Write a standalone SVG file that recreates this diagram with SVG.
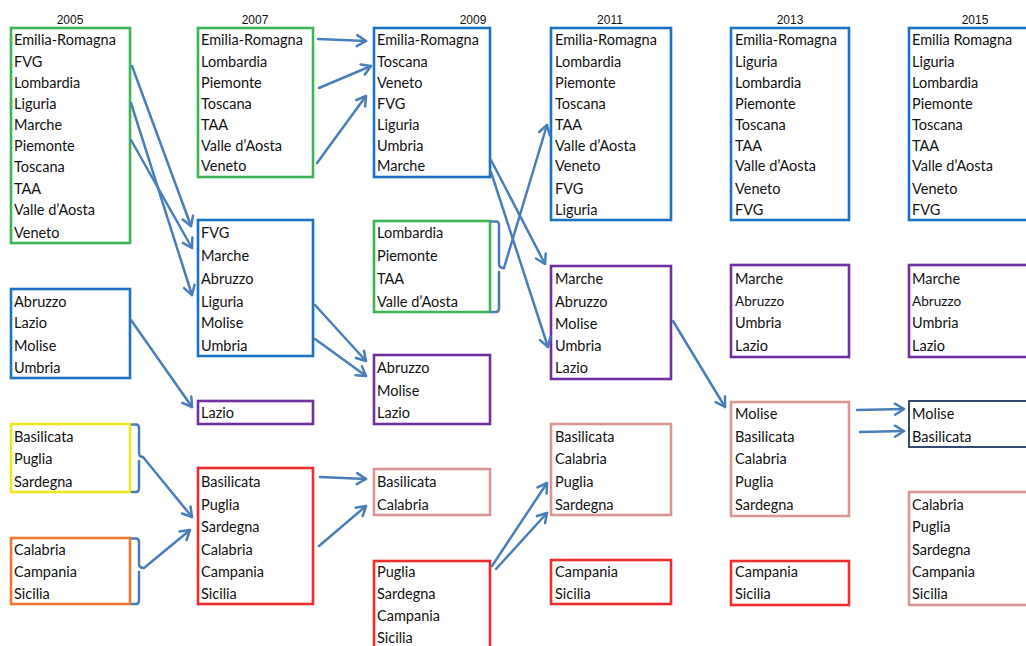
<svg xmlns="http://www.w3.org/2000/svg" width="1026" height="646" viewBox="0 0 1026 646">
<style>
.bg{fill:#ffffff}
.box{fill:none;stroke-width:2.6}
.g{stroke:#3DB556}.b{stroke:#1C72C2}.p{stroke:#7030A0}.y{stroke:#EFE81C}.o{stroke:#EC7A2E}.r{stroke:#EE2E2E}.k{stroke:#D99694}.n{stroke:#1F3864;stroke-width:1.8}
.t{font-family:Lato,"Open Sans","Liberation Sans",sans-serif;font-size:14.5px;fill:#111}
.s{font-size:13.6px}
.h{font-family:"Liberation Sans",Arial,sans-serif;font-size:12px;fill:#111;text-anchor:middle}
.c{fill:none;stroke:#4A7EBB;stroke-width:2.5;stroke-linecap:round;stroke-linejoin:round}
</style>
<defs>
<marker id="ar" markerUnits="userSpaceOnUse" markerWidth="14" markerHeight="14" viewBox="0 0 14 14" refX="11" refY="7" orient="auto">
<path d="M2,1.5 L11,7 L2,12.5" fill="none" stroke="#4A7EBB" stroke-width="2.5" stroke-linecap="round" stroke-linejoin="round"/>
</marker>
</defs>
<rect class="bg" x="0" y="0" width="1026" height="646"/>
<g id="titles">
<text class="h" x="70" y="24">2005</text>
<text class="h" x="255" y="24">2007</text>
<text class="h" x="473" y="24">2009</text>
<text class="h" x="610" y="24">2011</text>
<text class="h" x="790" y="24">2013</text>
<text class="h" x="975" y="24">2015</text>
</g>
<g id="n05a"><rect class="box g" x="11" y="28" width="119" height="215"/>
<text class="t" x="14" y="45">Emilia-Romagna</text><text class="t" x="14" y="67">FVG</text><text class="t" x="14" y="88">Lombardia</text><text class="t" x="14" y="109">Liguria</text><text class="t" x="14" y="130">Marche</text><text class="t" x="14" y="151">Piemonte</text><text class="t" x="14" y="172">Toscana</text><text class="t" x="14" y="194">TAA</text><text class="t" x="14" y="215">Valle d’Aosta</text><text class="t" x="14" y="238">Veneto</text></g>
<g id="n05b"><rect class="box b" x="11" y="289" width="119" height="89"/>
<text class="t" x="14" y="307">Abruzzo</text><text class="t" x="14" y="328">Lazio</text><text class="t" x="14" y="351">Molise</text><text class="t" x="14" y="373">Umbria</text></g>
<g id="n05c"><rect class="box y" x="11" y="424" width="119" height="68"/>
<text class="t" x="14" y="442">Basilicata</text><text class="t" x="14" y="464">Puglia</text><text class="t" x="14" y="487">Sardegna</text></g>
<g id="n05d"><rect class="box o" x="11" y="538" width="119" height="66"/>
<text class="t" x="14" y="555">Calabria</text><text class="t" x="14" y="577">Campania</text><text class="t" x="14" y="599">Sicilia</text></g>

<g id="n07a"><rect class="box g" x="198" y="28" width="115" height="149"/>
<text class="t" x="201" y="45">Emilia-Romagna</text><text class="t" x="201" y="67">Lombardia</text><text class="t" x="201" y="88">Piemonte</text><text class="t" x="201" y="109">Toscana</text><text class="t" x="201" y="130">TAA</text><text class="t" x="201" y="151">Valle d’Aosta</text><text class="t" x="201" y="171">Veneto</text></g>
<g id="n07b"><rect class="box b" x="198" y="220" width="115" height="136"/>
<text class="t" x="201" y="238">FVG</text><text class="t" x="201" y="261">Marche</text><text class="t" x="201" y="284">Abruzzo</text><text class="t" x="201" y="307">Liguria</text><text class="t" x="201" y="328">Molise</text><text class="t" x="201" y="351">Umbria</text></g>
<g id="n07c"><rect class="box p" x="198" y="401" width="115" height="23"/>
<text class="t" x="201" y="418">Lazio</text></g>
<g id="n07d"><rect class="box r" x="198" y="468" width="115" height="136"/>
<text class="t" x="201" y="487">Basilicata</text><text class="t" x="201" y="510">Puglia</text><text class="t" x="201" y="532">Sardegna</text><text class="t" x="201" y="555">Calabria</text><text class="t" x="201" y="577">Campania</text><text class="t" x="201" y="599">Sicilia</text></g>

<g id="n09a"><rect class="box b" x="374" y="28" width="116" height="149"/>
<text class="t" x="377" y="45">Emilia-Romagna</text><text class="t" x="377" y="67">Toscana</text><text class="t" x="377" y="88">Veneto</text><text class="t" x="377" y="109">FVG</text><text class="t" x="377" y="130">Liguria</text><text class="t" x="377" y="151">Umbria</text><text class="t" x="377" y="171">Marche</text></g>
<g id="n09b"><rect class="box g" x="374" y="221" width="116" height="91"/>
<text class="t" x="377" y="238">Lombardia</text><text class="t" x="377" y="261">Piemonte</text><text class="t" x="377" y="284">TAA</text><text class="t" x="377" y="307">Valle d’Aosta</text></g>
<g id="n09c"><rect class="box p" x="374" y="355" width="116" height="69"/>
<text class="t" x="377" y="373">Abruzzo</text><text class="t" x="377" y="396">Molise</text><text class="t" x="377" y="418">Lazio</text></g>
<g id="n09d"><rect class="box k" x="374" y="469" width="116" height="46"/>
<text class="t" x="377" y="487">Basilicata</text><text class="t" x="377" y="510">Calabria</text></g>
<g id="n09e"><rect class="box r" x="374" y="561" width="116" height="100"/>
<text class="t" x="377" y="577">Puglia</text><text class="t" x="377" y="599">Sardegna</text><text class="t" x="377" y="621">Campania</text><text class="t" x="377" y="643">Sicilia</text></g>

<g id="n11a"><rect class="box b" x="551" y="28" width="120" height="192"/>
<text class="t" x="555" y="45">Emilia-Romagna</text><text class="t" x="555" y="67">Lombardia</text><text class="t" x="555" y="88">Piemonte</text><text class="t" x="555" y="109">Toscana</text><text class="t" x="555" y="130">TAA</text><text class="t" x="555" y="151">Valle d’Aosta</text><text class="t" x="555" y="171">Veneto</text><text class="t" x="555" y="194">FVG</text><text class="t" x="555" y="215">Liguria</text></g>
<g id="n11b"><rect class="box p" x="551" y="266" width="120" height="113"/>
<text class="t" x="555" y="284">Marche</text><text class="t" x="555" y="307">Abruzzo</text><text class="t" x="555" y="329">Molise</text><text class="t" x="555" y="351">Umbria</text><text class="t" x="555" y="373">Lazio</text></g>
<g id="n11c"><rect class="box k" x="551" y="424" width="120" height="91"/>
<text class="t" x="555" y="442">Basilicata</text><text class="t" x="555" y="464">Calabria</text><text class="t" x="555" y="487">Puglia</text><text class="t" x="555" y="510">Sardegna</text></g>
<g id="n11d"><rect class="box r" x="551" y="560" width="120" height="44"/>
<text class="t" x="555" y="577">Campania</text><text class="t" x="555" y="599">Sicilia</text></g>

<g id="n13a"><rect class="box b" x="731" y="28" width="118" height="192"/>
<text class="t" x="735" y="45">Emilia-Romagna</text><text class="t" x="735" y="67">Liguria</text><text class="t" x="735" y="88">Lombardia</text><text class="t" x="735" y="109">Piemonte</text><text class="t" x="735" y="130">Toscana</text><text class="t" x="735" y="151">TAA</text><text class="t" x="735" y="171">Valle d’Aosta</text><text class="t" x="735" y="194">Veneto</text><text class="t" x="735" y="215">FVG</text></g>
<g id="n13b"><rect class="box p" x="731" y="265" width="118" height="92"/>
<text class="t" x="735" y="284">Marche</text><text class="t s" x="735" y="306">Abruzzo</text><text class="t" x="735" y="328">Umbria</text><text class="t" x="735" y="351">Lazio</text></g>
<g id="n13c"><rect class="box k" x="731" y="402" width="118" height="114"/>
<text class="t" x="735" y="419">Molise</text><text class="t" x="735" y="442">Basilicata</text><text class="t" x="735" y="464">Calabria</text><text class="t" x="735" y="487">Puglia</text><text class="t" x="735" y="510">Sardegna</text></g>
<g id="n13d"><rect class="box r" x="731" y="561" width="118" height="44"/>
<text class="t" x="735" y="577">Campania</text><text class="t" x="735" y="599">Sicilia</text></g>

<g id="n15a"><rect class="box b" x="909" y="28" width="140" height="192"/>
<text class="t" x="912" y="45">Emilia Romagna</text><text class="t" x="912" y="67">Liguria</text><text class="t" x="912" y="88">Lombardia</text><text class="t" x="912" y="109">Piemonte</text><text class="t" x="912" y="130">Toscana</text><text class="t" x="912" y="151">TAA</text><text class="t" x="912" y="171">Valle d’Aosta</text><text class="t" x="912" y="194">Veneto</text><text class="t" x="912" y="215">FVG</text></g>
<g id="n15b"><rect class="box p" x="909" y="265" width="140" height="92"/>
<text class="t" x="912" y="284">Marche</text><text class="t s" x="912" y="306">Abruzzo</text><text class="t" x="912" y="328">Umbria</text><text class="t" x="912" y="351">Lazio</text></g>
<g id="n15c"><rect class="box n" x="909" y="401" width="140" height="46"/>
<text class="t" x="912" y="419">Molise</text><text class="t" x="912" y="442">Basilicata</text></g>
<g id="n15d"><rect class="box k" x="909" y="492" width="140" height="113"/>
<text class="t" x="912" y="510">Calabria</text><text class="t" x="912" y="532">Puglia</text><text class="t" x="912" y="555">Sardegna</text><text class="t" x="912" y="577">Campania</text><text class="t" x="912" y="599">Sicilia</text></g>

<g id="connectors">
<path class="c" d="M132,66 L191,226" marker-end="url(#ar)"/>
<path class="c" d="M131,103 L192,295" marker-end="url(#ar)"/>
<path class="c" d="M131,140 L192,248" marker-end="url(#ar)"/>
<path class="c" d="M131,320 L192,407" marker-end="url(#ar)"/>
<path class="c" d="M132,424.5 H136 Q139,424.5 139,428 V453 Q139,457 143,457 M139,461 V488 Q139,492 136,492 H132"/>
<path class="c" d="M143,457 L192,517" marker-end="url(#ar)"/>
<path class="c" d="M132,538.5 H136 Q139,538.5 139,542 V564 Q139,568 144,568 M139,572 V600 Q139,604 136,604 H132"/>
<path class="c" d="M144,568 L190,530" marker-end="url(#ar)"/>
<path class="c" d="M318,39 L366,41" marker-end="url(#ar)"/>
<path class="c" d="M319,88 L371,66" marker-end="url(#ar)"/>
<path class="c" d="M317,163 L366,96" marker-end="url(#ar)"/>
<path class="c" d="M315,305 L366,361" marker-end="url(#ar)"/>
<path class="c" d="M315,339 L366,376" marker-end="url(#ar)"/>
<path class="c" d="M320,477 L366,479" marker-end="url(#ar)"/>
<path class="c" d="M319,546 L366,506" marker-end="url(#ar)"/>
<path class="c" d="M491,160 L545,264" marker-end="url(#ar)"/>
<path class="c" d="M491,172 L548,347" marker-end="url(#ar)"/>
<path class="c" d="M491,221.5 H496 Q499,221.5 499,225 V264 Q499,268 504,268 M499,272 V308 Q499,312 496,312 H491"/>
<path class="c" d="M504,268 L547,125" marker-end="url(#ar)"/>
<path class="c" d="M492,566 L547,483" marker-end="url(#ar)"/>
<path class="c" d="M496,569 L547,513" marker-end="url(#ar)"/>
<path class="c" d="M673,321 L725,407" marker-end="url(#ar)"/>
<path class="c" d="M857,410 L904,409" marker-end="url(#ar)"/>
<path class="c" d="M860,432 L904,431" marker-end="url(#ar)"/>
</g>
</svg>
